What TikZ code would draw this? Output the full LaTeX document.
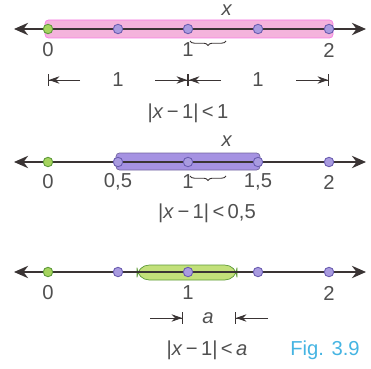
\documentclass[tikz,border=0pt]{standalone}
\usepackage{fontspec}
\setmainfont{Liberation Sans}
\usetikzlibrary{arrows.meta,decorations.pathreplacing}

\definecolor{ink}{HTML}{3A3434}
\definecolor{txt}{HTML}{505050}
\definecolor{dotfill}{HTML}{A99BE0}
\definecolor{dotrim}{HTML}{6A5CB0}
\definecolor{greenfill}{HTML}{A6D45E}
\definecolor{greenrim}{HTML}{5E9A3A}
\definecolor{bandpink}{HTML}{F4B3DC}
\definecolor{bandblue}{HTML}{A592E2}
\definecolor{bandgreen}{HTML}{C2E07A}
\definecolor{figblue}{HTML}{45B4E2}

\tikzset{
	axis/.style={ink, line width=1.1pt, {Stealth[length=8pt,width=7pt]}-{Stealth[length=8pt,width=7pt]}},
	pt/.style={circle, draw=dotrim, fill=dotfill, line width=0.5pt, inner sep=0pt, minimum size=5.4pt},
	ptzero/.style={pt, draw=greenrim, fill=greenfill},
	lbl/.style={txt, font=\fontsize{11.5}{13}\selectfont},
	dim/.style={ink, line width=0.5pt, -{Stealth[length=6pt,width=4.2pt] Bar[width=6.5pt]}},
	mark brace/.style={ink, line width=0.5pt, decorate, decoration={brace, mirror, amplitude=2.5pt}}
}

\begin{document}
\begin{tikzpicture}[x=0.02cm, y=-0.02cm]
	\useasboundingbox (0, 0) rectangle (371, 368);

	% first line: |x-1| < 1
	\fill [bandpink, draw=bandpink!70!magenta, rounded corners=2pt] (45, 20) rectangle (333, 38);
	\coordinate (l1) at (14, 29);
	\coordinate (r1) at (366, 29);
	\draw [axis] (l1) -- (r1);
	\node [ptzero] (a0) at (48, 29) {};
	\node [pt] (a1) at (118, 29) {};
	\node [pt] (a2) at (188, 29) {};
	\node [pt] (a3) at (258, 29) {};
	\node [pt] (a4) at (329, 29) {};
	\node [lbl] at (227, 10) {\textit{x}};
	\draw [mark brace] (190, 41) -- (226, 41);
	\node [lbl] at (48, 50) {0};
	\node [lbl] at (188, 50) {1};
	\node [lbl] at (329, 50) {2};
	\coordinate (d1) at (80, 80);
	\coordinate (d2) at (48, 80);
	\coordinate (d3) at (155, 80);
	\coordinate (d4) at (188, 80);
	\coordinate (d5) at (221, 80);
	\coordinate (d6) at (296, 80);
	\coordinate (d7) at (329, 80);
	\draw [dim] (d1) -- (d2);
	\draw [dim] (d3) -- (d4);
	\draw [dim] (d5) -- (d4);
	\draw [dim] (d6) -- (d7);
	\node [lbl] at (118, 80) {1};
	\node [lbl] at (258, 80) {1};
	\node [lbl] at (188, 113) {|\textit{x}\,−\,1|\,<\,1};

	% second line: |x-1| < 0,5
	\fill [bandblue, draw=bandblue!70!black, rounded corners=2pt] (116, 153) rectangle (260, 170);
	\coordinate (l2) at (14, 162);
	\coordinate (r2) at (366, 162);
	\draw [axis] (l2) -- (r2);
	\node [ptzero] (b0) at (48, 162) {};
	\node [pt] (b1) at (118, 162) {};
	\node [pt] (b2) at (188, 162) {};
	\node [pt] (b3) at (258, 162) {};
	\node [pt] (b4) at (329, 162) {};
	\node [lbl] at (227, 141) {\textit{x}};
	\draw [mark brace] (190, 176) -- (226, 176);
	\node [lbl] at (48, 182) {0};
	\node [lbl] at (118, 182) {0,5};
	\node [lbl] at (188, 182) {1};
	\node [lbl] at (258, 182) {1,5};
	\node [lbl] at (329, 182) {2};
	\node [lbl] at (207, 213) {|\textit{x}\,−\,1|\,<\,0,5};

	% third line: |x-1| < a
	\fill [bandgreen, draw=greenrim, rounded corners=7pt] (137, 265) rectangle (237, 280);
	\coordinate (l3) at (14, 272);
	\coordinate (r3) at (366, 272);
	\draw [axis] (l3) -- (r3);
	\node [ptzero] (c0) at (48, 272) {};
	\node [pt] (c1) at (118, 272) {};
	\node [pt] (c2) at (188, 272) {};
	\node [pt] (c3) at (258, 272) {};
	\node [pt] (c4) at (329, 272) {};
	\node [lbl] at (48, 293) {0};
	\node [lbl] at (188, 293) {1};
	\node [lbl] at (329, 293) {2};
	\coordinate (e1) at (150, 318);
	\coordinate (e2) at (183, 318);
	\coordinate (e3) at (268, 318);
	\coordinate (e4) at (235, 318);
	\draw [dim] (e1) -- (e2);
	\draw [dim] (e3) -- (e4);
	\node [lbl] at (208, 318) {\textit{a}};
	\node [lbl] at (207, 350) {|\textit{x}\,−\,1|\,<\,\textit{a}};
	\node [lbl, figblue] at (325, 350) {Fig. 3.9};
\end{tikzpicture}
\end{document}
